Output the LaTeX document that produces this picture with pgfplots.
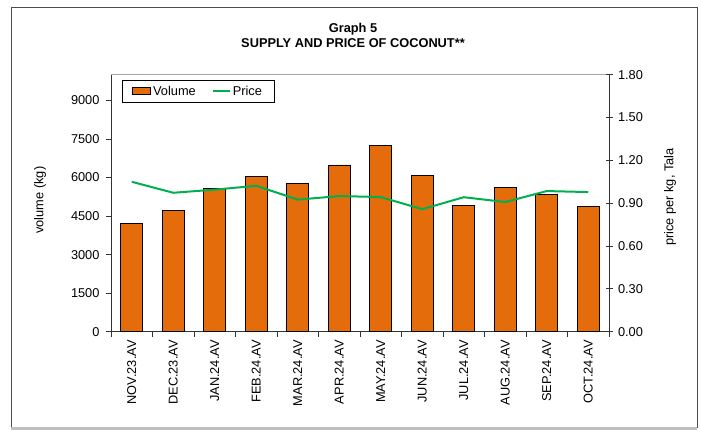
\documentclass[border=0pt]{standalone}
\usepackage{fontspec}
\setmainfont{Liberation Sans}
\usepackage{pgfplots}
\pgfplotsset{compat=1.18}
\definecolor{barorange}{RGB}{228,108,10}
\definecolor{pricegreen}{RGB}{0,176,80}
\newcommand{\chartfont}{\fontsize{12.8bp}{15bp}\selectfont}
\pgfplotsset{volumelegend/.style={legend image code/.code={\draw[##1] (0bp,-3.5bp) rectangle (18bp,3.5bp);}}}
\begin{document}
\begin{tikzpicture}
\path[use as bounding box] (0bp,0bp) rectangle (701bp,430bp);
\draw[black!70, line width=1bp] (11bp,2.5bp) rectangle (697bp,422bp);
\draw[black!25, line width=2.5bp] (11bp,1.5bp) -- (697bp,1.5bp);
\node[font=\bfseries\chartfont, align=center] at (353bp,395bp) {Graph 5\\[0bp]SUPPLY AND PRICE OF COCONUT**};
\begin{axis}[
  at={(111bp,98.3bp)}, anchor=south west,
  width=498bp, height=257bp, scale only axis,
  xmin=-0.5, xmax=11.5, ymin=0, ymax=10000,
  axis x line*=bottom, axis y line*=left,
  axis line style={black!80, line width=0.9bp},
  tick align=outside,
  xtick={0,...,11},
  xticklabels={NOV.23.AV,DEC.23.AV,JAN.24.AV,FEB.24.AV,MAR.24.AV,APR.24.AV,MAY.24.AV,JUN.24.AV,JUL.24.AV,AUG.24.AV,SEP.24.AV,OCT.24.AV},
  major x tick style={draw=none},
  minor xtick={-0.5,0.5,...,11.5},
  minor tick length=5bp,
  major tick length=5bp,
  tick style={black!80, line width=0.8bp},
  xticklabel style={rotate=90, anchor=east, font=\chartfont},
  ytick={0,1500,3000,4500,6000,7500,9000},
  scaled y ticks=false,
  yticklabel style={font=\chartfont, xshift=-3bp},
  /pgf/number format/assume math mode=true,
  /pgf/number format/1000 sep={},
  ylabel={volume (kg)},
  ylabel style={at={(axis description cs:-0.1426,0.512)}, anchor=center, font=\chartfont},
  legend style={at={(axis description cs:0.022,0.979)}, anchor=north west, draw=black, line width=0.8bp, font=\chartfont, inner xsep=10bp, inner ysep=3.5bp, /tikz/every even column/.append style={column sep=14bp}},
  legend columns=2,
  legend cell align=left,
]
\draw[black!35, line width=1.2bp] (rel axis cs:0,1) -- (rel axis cs:1,1);
\addplot[ybar, bar width=0.53, fill=barorange, draw=black, line width=0.8bp, volumelegend]
  coordinates {(0,4196) (1,4730) (2,5590) (3,6040) (4,5754) (5,6490) (6,7235) (7,6078) (8,4925) (9,5615) (10,5340) (11,4890)};
\addlegendentry{Volume}
\addlegendimage{pricegreen, line width=2bp}
\addlegendentry{Price}
\end{axis}
\begin{axis}[
  at={(111bp,98.3bp)}, anchor=south west,
  width=498bp, height=257bp, scale only axis,
  xmin=-0.5, xmax=11.5, ymin=0, ymax=1.8,
  axis y line*=right, axis x line=none,
  axis line style={black!80, line width=0.9bp},
  tick align=center,
  major tick length=7bp,
  tick style={black!80, line width=0.8bp},
  ytick={0,0.3,0.6,0.9,1.2,1.5,1.8},
  yticklabel style={font=\chartfont, xshift=2bp},
  /pgf/number format/assume math mode=true,
  /pgf/number format/.cd, fixed, fixed zerofill, precision=2,
  /pgfplots/.cd,
  ylabel={price per kg, Tala},
  ylabel style={at={(axis description cs:1.1225,0.524)}, anchor=center, font=\chartfont},
]
\addplot[pricegreen, line width=2bp, mark=none]
  coordinates {(0,1.05) (1,0.973) (2,0.995) (3,1.022) (4,0.925) (5,0.95) (6,0.943) (7,0.858) (8,0.942) (9,0.908) (10,0.985) (11,0.978)};
\end{axis}
\end{tikzpicture}
\end{document}
